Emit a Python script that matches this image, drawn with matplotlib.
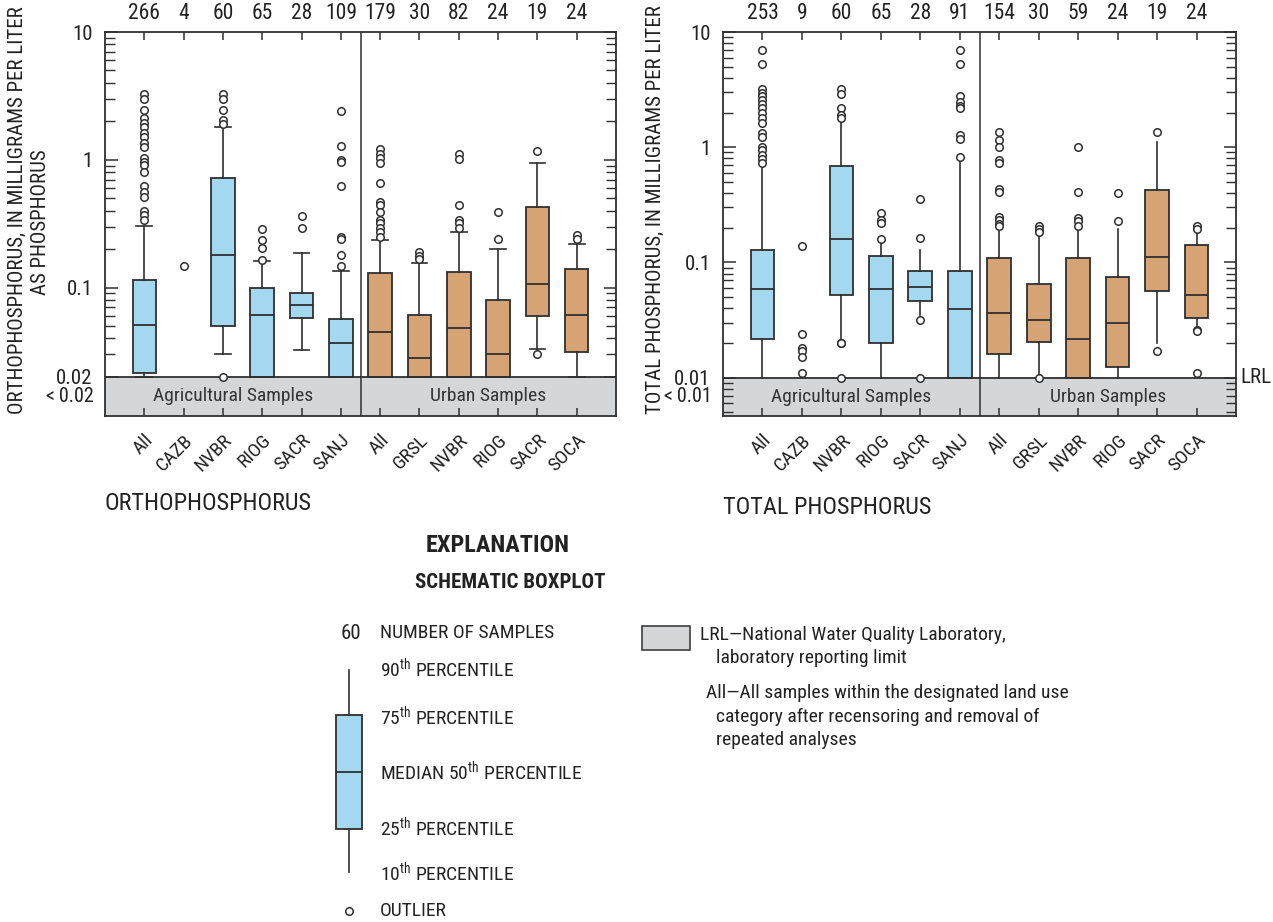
import math
import matplotlib
matplotlib.use("Agg")
import matplotlib.pyplot as plt
from matplotlib import font_manager
from matplotlib.ticker import LogLocator, NullFormatter, FixedLocator
from matplotlib.patches import Rectangle
import matplotlib.transforms as mtransforms

# ---------------- fonts ----------------
_avail = {f.name for f in font_manager.fontManager.ttflist}
FONT = next(f for f in ["Liberation Sans Narrow", "Roboto Condensed", "Liberation Sans", "DejaVu Sans"] if f in _avail)
plt.rcParams["font.family"] = [FONT, "DejaVu Sans"]
plt.rcParams["mathtext.fontset"] = "custom"
plt.rcParams["mathtext.rm"] = FONT
plt.rcParams["mathtext.it"] = FONT
plt.rcParams["mathtext.bf"] = FONT

# ---------------- data ----------------
labels = ["All", "CAZB", "NVBR", "RIOG", "SACR", "SANJ", "All", "GRSL", "NVBR", "RIOG", "SACR", "SOCA"]

# Orthophosphorus (LRL = 0.02 mg/L; censored quartiles/whiskers drawn to LRL)
op_lrl = 0.02
op_counts = [266, 4, 60, 65, 28, 109, 179, 30, 82, 24, 19, 24]
op_q3 = [0.114, None, 0.724, 0.100, 0.0914, 0.0571, 0.129, 0.061, 0.133, 0.0805, 0.428, 0.139]
op_med = [0.0506, None, 0.181, 0.0607, 0.0736, 0.0371, 0.0449, 0.0281, 0.0485, 0.030, 0.106, 0.0614]
op_q1 = [0.0216, None, 0.050, 0.02, 0.0582, 0.02, 0.02, 0.02, 0.02, 0.02, 0.0596, 0.0313]
op_lo = [0.02, None, 0.030, 0.02, 0.0328, 0.02, 0.02, 0.02, 0.02, 0.02, 0.033, 0.02]
op_hi = [0.306, None, 1.82, 0.162, 0.187, 0.134, 0.235, 0.156, 0.273, 0.202, 0.944, 0.221]
op_out = [
    [3.28, 3.01, 2.46, 2.11, 1.93, 1.79, 1.63, 1.50, 1.35, 1.27, 1.03, 0.97, 0.91, 0.80, 0.62, 0.56, 0.51, 0.40, 0.37, 0.34],
    [0.148],
    [3.28, 3.01, 2.46, 2.05, 1.91, 0.02],
    [0.290, 0.235, 0.206, 0.164],
    [0.362, 0.293],
    [2.42, 1.28, 1.00, 0.97, 0.62, 0.247, 0.24, 0.179, 0.148],
    [1.21, 1.12, 1.03, 0.94, 0.655, 0.464, 0.443, 0.388, 0.337, 0.318, 0.293, 0.273, 0.249],
    [0.190, 0.176, 0.166],
    [1.11, 1.01, 0.443, 0.337, 0.318, 0.293],
    [0.390, 0.240],
    [1.18, 0.030],
    [0.257, 0.238],
]

# Total phosphorus (LRL = 0.01 mg/L)
tp_lrl = 0.01
tp_counts = [253, 9, 60, 65, 28, 91, 154, 30, 59, 24, 19, 24]
tp_q3 = [0.128, None, 0.689, 0.114, 0.085, 0.0843, 0.1087, 0.0646, 0.1087, 0.0743, 0.427, 0.142]
tp_med = [0.0585, None, 0.159, 0.0592, 0.061, 0.0394, 0.0362, 0.0316, 0.0215, 0.0296, 0.112, 0.0522]
tp_q1 = [0.0215, None, 0.0525, 0.0199, 0.0464, 0.01, 0.0159, 0.0205, 0.01, 0.0123, 0.0569, 0.0327]
tp_lo = [0.01, None, 0.0201, 0.01, 0.035, 0.01, 0.01, 0.01, 0.01, 0.01, 0.0199, 0.0259]
tp_hi = [0.66, None, 1.79, 0.152, 0.128, 0.83, 0.234, 0.179, 0.191, 0.194, 1.12, 0.188]
tp_out = [
    [7.0, 5.3, 3.2, 2.95, 2.76, 2.58, 2.38, 2.19, 1.98, 1.79, 1.62, 1.33, 1.22, 1.01, 0.94, 0.86, 0.79, 0.73],
    [0.140, 0.0239, 0.0180, 0.0172, 0.0150, 0.0110],
    [3.2, 2.91, 2.19, 1.91, 1.79, 0.0201, 0.0198, 0.01],
    [0.271, 0.234, 0.219, 0.159],
    [0.358, 0.164, 0.0316, 0.01],
    [7.0, 5.3, 2.76, 2.49, 2.3, 2.19, 1.28, 1.18, 0.83],
    [1.35, 1.16, 1.0, 0.776, 0.73, 0.433, 0.41, 0.250, 0.234, 0.216, 0.207],
    [0.209, 0.197, 0.184, 0.01],
    [1.0, 0.405, 0.245, 0.228, 0.209],
    [0.399, 0.230],
    [1.35, 0.0170],
    [0.209, 0.197, 0.0259, 0.0255, 0.0109],
]

groups = ["Agricultural Samples", "Urban Samples"]

# ---------------- style ----------------
BLUE = "#A4D8F1"
TAN = "#D6A374"
GRAY = "#D5D6D8"
EDGE = "#2f2f2f"
TXT = "#222222"

W, H = 1273, 922
fig = plt.figure(figsize=(W / 100, H / 100), dpi=100)


def draw_panel(rect, counts, q1, med, q3, lo, hi, outs, lrl, ymin, lrl_label, caps):
    ax = fig.add_axes(rect)
    n = len(labels)
    pos = list(range(1, n + 1))
    ax.set_yscale("log")
    ax.set_ylim(ymin, 10)
    ax.set_xlim(0, n + 1)

    stats, spos, cols = [], [], []
    for i in range(n):
        if med[i] is None:
            continue
        stats.append(dict(q1=q1[i], med=med[i], q3=q3[i], whislo=lo[i], whishi=hi[i], fliers=[]))
        spos.append(pos[i])
        cols.append(BLUE if i < 6 else TAN)
    bp = ax.bxp(stats, positions=spos, widths=0.6, patch_artist=True, showfliers=False,
                showcaps=caps, capwidths=0.4, manage_ticks=False,
                boxprops=dict(edgecolor=EDGE, linewidth=1.3),
                whiskerprops=dict(color=EDGE, linewidth=1.2),
                capprops=dict(color=EDGE, linewidth=1.2),
                medianprops=dict(color=EDGE, linewidth=1.3))
    for b, c in zip(bp["boxes"], cols):
        b.set_facecolor(c)
        b.set_zorder(2)

    for i in range(n):
        ax.plot([pos[i]] * len(outs[i]), outs[i], linestyle="none", marker="o", ms=5.4,
                mfc="white", mec=EDGE, mew=1.1, zorder=6, clip_on=False)

    # censored band
    ax.axhspan(ymin, lrl, facecolor=GRAY, edgecolor="none", zorder=1)
    ax.axhline(lrl, color=EDGE, lw=1.3, zorder=5)
    ax.axvline(6.5, color=EDGE, lw=1.1, zorder=5)
    ymid = 10 ** ((math.log10(ymin) + math.log10(lrl)) / 2)
    ax.text(3.25, ymid, groups[0], ha="center", va="center", fontsize=14, color="#333333", zorder=6)
    ax.text(9.75, ymid, groups[1], ha="center", va="center", fontsize=14, color="#333333", zorder=6)

    # y ticks
    ax.yaxis.set_major_locator(FixedLocator([lrl, 0.1, 1, 10]))
    ax.set_yticklabels([f"{lrl:g}", "0.1", "1", "10"])
    ax.yaxis.set_minor_locator(LogLocator(base=10, subs=[2, 3, 4, 5, 6, 7, 8, 9], numticks=20))
    ax.yaxis.set_minor_formatter(NullFormatter())
    ax.tick_params(axis="y", which="major", direction="in", length=9, width=1.1, left=True, right=True,
                   labelsize=15, pad=9, colors=EDGE, labelcolor=TXT)
    ax.tick_params(axis="y", which="minor", direction="in", length=7, width=1.0, left=True, right=True,
                   colors=EDGE)
    ax.text(-0.022, ymid, f"<\u2009{lrl:g}", transform=mtransforms.blended_transform_factory(ax.transAxes, ax.transData),
            ha="right", va="center", fontsize=14.5, color=TXT)

    # x ticks
    ax.set_xticks(pos)
    ax.set_xticklabels(labels, rotation=45, ha="right", rotation_mode="anchor", fontsize=14, color=TXT)
    ax.tick_params(axis="x", direction="in", length=6, width=1.1, top=False, bottom=True, pad=11, colors=EDGE,
                   labelcolor=TXT)
    sec = ax.secondary_xaxis("top")
    sec.set_xticks(pos)
    sec.set_xticklabels([str(c) for c in counts], fontsize=15.5, color=TXT)
    sec.tick_params(direction="in", length=6, width=1.1, pad=6, colors=EDGE, labelcolor=TXT)
    sec.spines["top"].set_visible(False)

    for s in ax.spines.values():
        s.set_linewidth(1.3)
        s.set_color(EDGE)
        s.set_zorder(7)
    if lrl_label:
        ax.text(1.008, lrl, lrl_label, transform=mtransforms.blended_transform_factory(ax.transAxes, ax.transData),
                ha="left", va="center", fontsize=15, color=TXT)
    return ax


axo = draw_panel([105 / W, 1 - 416 / H, 511 / W, 384 / H], op_counts, op_q1, op_med, op_q3, op_lo, op_hi,
                 op_out, op_lrl, 0.0099, None, True)
axt = draw_panel([723 / W, 1 - 416 / H, 513 / W, 384 / H], tp_counts, tp_q1, tp_med, tp_q3, tp_lo, tp_hi,
                 tp_out, tp_lrl, 0.00465, "LRL", False)

fig.text(17 / W, 1 - 210 / H, "ORTHOPHOSPHORUS, IN MILLIGRAMS PER LITER", rotation=90,
         ha="center", va="center", fontsize=15, color=TXT)
fig.text(41 / W, 1 - 222 / H, "AS PHOSPHORUS", rotation=90,
         ha="center", va="center", fontsize=15, color=TXT)
fig.text(655 / W, 1 - 210 / H, "TOTAL PHOSPHORUS, IN MILLIGRAMS PER LITER", rotation=90,
         ha="center", va="center", fontsize=15, color=TXT)
fig.text(105 / W, 1 - 503 / H, "ORTHOPHOSPHORUS", ha="left", va="center", fontsize=17.5, color=TXT)
fig.text(723 / W, 1 - 508 / H, "TOTAL PHOSPHORUS", ha="left", va="center", fontsize=17.5, color=TXT)

# ---------------- explanation ----------------
axl = fig.add_axes([0, 0, 1, 1], zorder=-5)
axl.set_xlim(0, W)
axl.set_ylim(H, 0)
axl.axis("off")

axl.text(498, 545, "EXPLANATION", ha="center", va="center", fontsize=17.5, fontweight="bold", color=TXT)
axl.text(510, 582, "SCHEMATIC BOXPLOT", ha="center", va="center", fontsize=15, fontweight="bold", color=TXT)

leg_stats = [dict(whishi=670, q3=715, med=772, q1=829, whislo=872, fliers=[])]
lb = axl.bxp(leg_stats, positions=[349], widths=26, patch_artist=True, showfliers=False, showcaps=False,
             manage_ticks=False, boxprops=dict(edgecolor=EDGE, linewidth=1.3, facecolor=BLUE),
             whiskerprops=dict(color=EDGE, linewidth=1.2), medianprops=dict(color=EDGE, linewidth=1.3))
axl.plot([349], [911], linestyle="none", marker="o", ms=5.4, mfc="white", mec=EDGE, mew=1.1)

axl.text(351, 633, "60", ha="center", va="center", fontsize=15, color=TXT)
leg_rows = [(633, "NUMBER OF SAMPLES"),
            (669, r"90$^{\mathrm{th}}$ PERCENTILE"),
            (717, r"75$^{\mathrm{th}}$ PERCENTILE"),
            (772, r"MEDIAN 50$^{\mathrm{th}}$ PERCENTILE"),
            (828, r"25$^{\mathrm{th}}$ PERCENTILE"),
            (873, r"10$^{\mathrm{th}}$ PERCENTILE"),
            (911, "OUTLIER")]
for y, t in leg_rows:
    axl.text(380, y, t, ha="left", va="center", fontsize=14, color=TXT)

axl.add_patch(Rectangle((642, 626), 48, 24, facecolor=GRAY, edgecolor=EDGE, lw=1.1))
axl.text(700, 635, "LRL\u2014National Water Quality Laboratory,", ha="left", va="center", fontsize=14, color=TXT)
axl.text(716, 658, "laboratory reporting limit", ha="left", va="center", fontsize=14, color=TXT)
axl.text(706, 693, "All\u2014All samples within the designated land use", ha="left", va="center", fontsize=14, color=TXT)
axl.text(716, 717, "category after recensoring and removal of", ha="left", va="center", fontsize=14, color=TXT)
axl.text(716, 740, "repeated analyses", ha="left", va="center", fontsize=14, color=TXT)

fig.savefig("out.png", dpi=100)
